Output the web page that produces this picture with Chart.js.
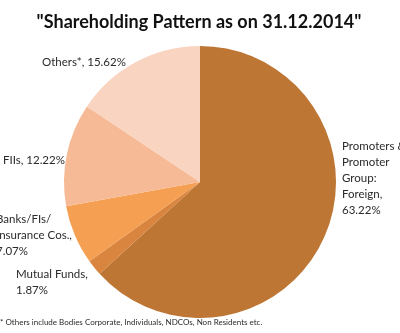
<!DOCTYPE html>
<html lang="en">
<head>
  <meta charset="UTF-8" />
  <title>Shareholding Pattern</title>
  <script src="https://cdn.jsdelivr.net/npm/chart.js"></script>
  <style>
    html, body { margin: 0; padding: 0; background: #fff; }
    #box { width: 400px; height: 333px; position: relative; }
  </style>
</head>
<body>
  <div id="box"><canvas id="pieChart"></canvas></div>

  <script>
    // data
    const categorias = ['Promoters & Promoter Group: Foreign', 'Mutual Funds', 'Banks/FIs/ Insurance Cos.', 'FIIs', 'Others*'];
    const percentuais = [63.22, 1.87, 7.07, 12.22, 15.62];
    const cores = ['#BE7635', '#D9843F', '#F59F52', '#F7BA96', '#F9D4C0'];

    // label text, one entry per line
    const rotulos = [
      ['Promoters &', 'Promoter', 'Group:', 'Foreign,', '63.22%'],
      ['Mutual Funds,', '1.87%'],
      ['Banks/FIs/', 'Insurance Cos.,', '7.07%'],
      ['FIIs, 12.22%'],
      ['Others*, 15.62%']
    ];
    const posRotulos = [
      { x: 342, y: 146 },
      { x: 16, y: 274 },
      { x: -4, y: 219 },
      { x: 3, y: 160 },
      { x: 42, y: 62 }
    ];

    const titulo = '"Shareholding Pattern as on 31.12.2014"';
    const nota = '* Others include Bodies Corporate, Individuals, NDCOs, Non Residents etc.';

    const textos = {
      id: 'textos',
      afterDraw(chart) {
        const ctx = chart.ctx;
        ctx.save();
        ctx.fillStyle = '#111';
        ctx.textAlign = 'center';
        ctx.textBaseline = 'middle';
        ctx.font = 'bold 18px Lato';
        ctx.fillText(titulo, 199, 22);

        ctx.fillStyle = '#2a2a2a';
        ctx.textAlign = 'left';
        ctx.font = '11.5px Lato';
        for (let i = 0; i < rotulos.length; i++) {
          const linhas = rotulos[i];
          for (let j = 0; j < linhas.length; j++) {
            ctx.fillText(linhas[j], posRotulos[i].x, posRotulos[i].y + j * 16);
          }
        }

        ctx.font = '8px Lato';
        ctx.fillText(nota, 0, 322);
        ctx.restore();
      }
    };

    new Chart(document.getElementById('pieChart'), {
      type: 'pie',
      data: {
        labels: categorias,
        datasets: [{
          data: percentuais,
          backgroundColor: cores,
          borderWidth: 0
        }]
      },
      options: {
        responsive: true,
        maintainAspectRatio: false,
        animation: false,
        layout: { padding: { top: 46, bottom: 15, left: 64, right: 64 } },
        plugins: {
          legend: { display: false },
          tooltip: { enabled: false }
        }
      },
      plugins: [textos]
    });
  </script>
</body>
</html>
